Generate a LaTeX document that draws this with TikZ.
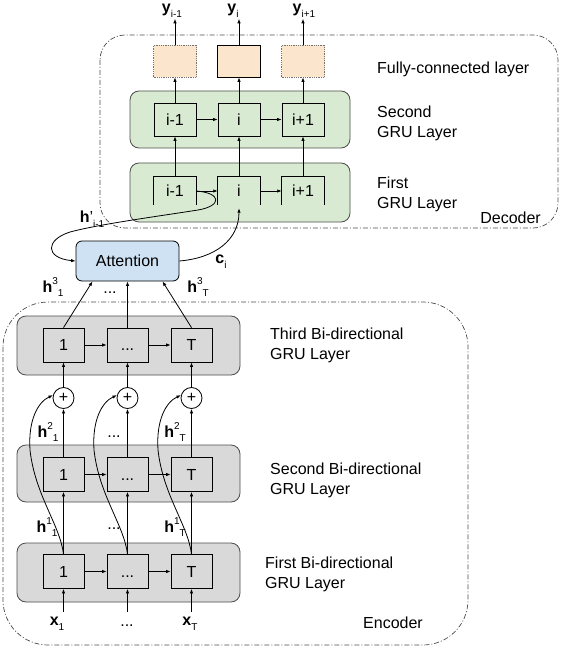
\documentclass[tikz,border=0pt]{standalone}
\usepackage{fontspec}
\setmainfont{Liberation Sans}
\usetikzlibrary{arrows.meta}
\definecolor{fcfill}{HTML}{FCE5CD}
\definecolor{grufill}{HTML}{D9EAD3}
\definecolor{attfill}{HTML}{CFE2F3}
\definecolor{encfill}{HTML}{D9D9D9}
\newcommand{\sbx}[1]{{\fontsize{10}{10}\selectfont #1}}
\newcommand{\vecl}[3]{\textbf{#1}\raisebox{0.5em}{\sbx{#2}}\raisebox{-0.3em}{\sbx{#3}}}
\newcommand{\subl}[2]{\textbf{#1}\raisebox{-0.3em}{\sbx{#2}}}
\newcommand{\threedots}{\vphantom{T}...}
\begin{document}
\begin{tikzpicture}[x=1pt,y=-1pt, font=\fontsize{16}{20}\selectfont,
  arr/.style={-{Latex[length=4.5pt,width=3.5pt]}, line width=0.8pt},
  layer/.style={draw=black!70, rounded corners=9pt, line width=0.8pt},
  cell/.style={draw=black, line width=0.8pt, minimum width=42pt, minimum height=33pt, inner sep=0pt},
  opencell/.style={minimum width=42pt, minimum height=28pt, inner sep=0pt},
  fcbox/.style={fill=fcfill, minimum width=43pt, minimum height=32pt, inner sep=0pt},
  plusnode/.style={circle, draw=black, line width=0.8pt, fill=white, minimum size=21pt, inner sep=0pt},
  frame/.style={draw=black!70, line width=0.7pt, dash pattern=on 5pt off 2pt on 1pt off 2pt},
  txt/.style={inner sep=0pt, align=left},
  lbl/.style={inner sep=1pt}
]
\useasboundingbox (0,0) rectangle (560,652);

% frames
\draw[frame, rounded corners=25pt] (100,35) rectangle (558,228);
\draw[frame, rounded corners=45pt] (3,302) rectangle (468,645);

% ---------------- Decoder ----------------
\draw[layer, fill=grufill] (130,91) rectangle (350,148);
\draw[layer, fill=grufill] (130,163) rectangle (350,222);

\node[fcbox, draw=black!55, densely dotted, line width=0.8pt] (fc1) at (175,61) {};
\node[fcbox, draw=black, line width=0.8pt] (fc2) at (239,61) {};
\node[fcbox, draw=black!55, densely dotted, line width=0.8pt] (fc3) at (303,61) {};

\node[cell, fill=grufill] (d2a) at (175,119.5) {i-1};
\node[cell, fill=grufill] (d2b) at (239,119.5) {i};
\node[cell, fill=grufill] (d2c) at (303,119.5) {i+1};

\node[opencell] (d1a) at (175,191) {i-1};
\node[opencell] (d1b) at (239,191) {i};
\node[opencell] (d1c) at (303,191) {i+1};
\foreach \n in {d1a,d1b,d1c}{
  \draw[line width=0.8pt] (\n.south west) |- (\n.north east) -- (\n.south east);
}

\node[lbl] (y1) at (172,11) {\subl{y}{i-1}};
\node[lbl] (y2) at (233,11) {\subl{y}{i}};
\node[lbl] (y3) at (304,11) {\subl{y}{i+1}};

\draw[arr] (fc1.north) -- (fc1.north |- y1.south);
\draw[arr] (fc2.north) -- (fc2.north |- y2.south);
\draw[arr] (fc3.north) -- (fc3.north |- y3.south);

\draw[arr] (d2a.north) -- (fc1.south);
\draw[arr] (d2b.north) -- (fc2.south);
\draw[arr] (d2c.north) -- (fc3.south);
\draw[arr] (d2a.east) -- (d2b.west);
\draw[arr] (d2b.east) -- (d2c.west);

\draw[arr] (d1a.north) -- (d2a.south);
\draw[arr] (d1b.north) -- (d2b.south);
\draw[arr] (d1c.north) -- (d2c.south);
\draw[arr] (d1a.east) -- (d1b.west);
\draw[arr] (d1b.east) -- (d1c.west);

\node[txt, anchor=west] (fcl) at (377,69) {Fully-connected layer};
\node[txt, anchor=west] (d2l) at (377,123) {Second\\GRU Layer};
\node[txt, anchor=west] (d1l) at (377,194) {First\\GRU Layer};
\node[txt, anchor=east] (decl) at (541,218) {Decoder};

% ---------------- Attention ----------------
\node[draw=black, line width=0.8pt, fill=attfill, rounded corners=6pt, minimum width=103pt, minimum height=40pt, inner sep=0pt] (att) at (127.5,261) {Attention};

\node[lbl] (hp) at (92,219) {\textbf{h}'\raisebox{-0.3em}{\sbx{i-1}}};
\node[lbl] (ci) at (221,262) {\subl{c}{i}};

\draw[arr] (d1a.east) .. controls (222,193) and (222,206) .. (198,210)
  .. controls (160,216) and (100,224) .. (70,232)
  .. controls (45,240) and (45,258) .. (att.west);
\draw[arr] (att.east) .. controls (215,258) and (239,240) .. ([yshift=-3pt]d1b.south);

% ---------------- Encoder ----------------
\draw[layer, fill=encfill] (17,316) rectangle (240,375);
\draw[layer, fill=encfill] (17,445) rectangle (240,502);
\draw[layer, fill=encfill] (17,543) rectangle (240,602);

\foreach \c/\cx/\t in {a/63.5/1, b/127.5/\threedots, c/191.5/T}{
  \node[cell, fill=encfill, minimum width=41pt, minimum height=34pt] (e3\c) at (\cx,345) {\t};
  \node[cell, fill=encfill, minimum width=41pt, minimum height=34pt] (e2\c) at (\cx,474.5) {\t};
  \node[cell, fill=encfill, minimum width=41pt, minimum height=34pt] (e1\c) at (\cx,571.5) {\t};
  \node[plusnode] (p\c) at (\cx,398) {+};
  \coordinate (in\c) at (\cx,612);
  \draw[arr] (in\c) -- (e1\c.south);
  \draw[arr] (e1\c.north) -- (e2\c.south);
  \draw[arr] (e2\c.north) -- (p\c.south);
  \draw[arr] (p\c.north) -- (e3\c.south);
  \draw[arr] (e1\c.north) .. controls ({\cx-3.5},525) and ({\cx-28.5},495) .. ({\cx-33.5},450)
     .. controls ({\cx-35.5},420) and ({\cx-25.5},402) .. (p\c.165);
}
\draw[arr] (e3a.east) -- (e3b.west);
\draw[arr] (e3b.east) -- (e3c.west);
\draw[arr] (e2a.east) -- (e2b.west);
\draw[arr] (e2b.east) -- (e2c.west);
\draw[arr] (e1a.east) -- (e1b.west);
\draw[arr] (e1b.east) -- (e1c.west);

\draw[arr] (e3a.north) -- ([xshift=-35pt]att.south);
\draw[arr] (e3b.north) -- (att.south);
\draw[arr] (e3c.north) -- ([xshift=35pt]att.south);

% labels
\node[lbl] (h31) at (53,287) {\vecl{h}{3}{1}};
\node[lbl] (h3d) at (110,293) {...};
\node[lbl] (h3T) at (198,287) {\vecl{h}{3}{T}};
\node[lbl] (h21) at (48,432) {\vecl{h}{2}{1}};
\node[lbl] (h2d) at (114,437) {...};
\node[lbl] (h2T) at (175,432) {\vecl{h}{2}{T}};
\node[lbl] (h11) at (47,527) {\vecl{h}{1}{1}};
\node[lbl] (h1d) at (114,529) {...};
\node[lbl] (h1T) at (175,527) {\vecl{h}{1}{T}};
\node[lbl] (x1) at (57,624) {\subl{x}{1}};
\node[lbl] (xd) at (127,626) {...};
\node[lbl] (xT) at (190,624) {\subl{x}{T}};

\node[txt, anchor=west] (e3l) at (270,345) {Third Bi-directional\\GRU Layer};
\node[txt, anchor=west] (e2l) at (270,480) {Second Bi-directional\\GRU Layer};
\node[txt, anchor=west] (e1l) at (265,574) {First Bi-directional\\GRU Layer};
\node[txt] (encl) at (393,623) {Encoder};
\end{tikzpicture}
\end{document}
